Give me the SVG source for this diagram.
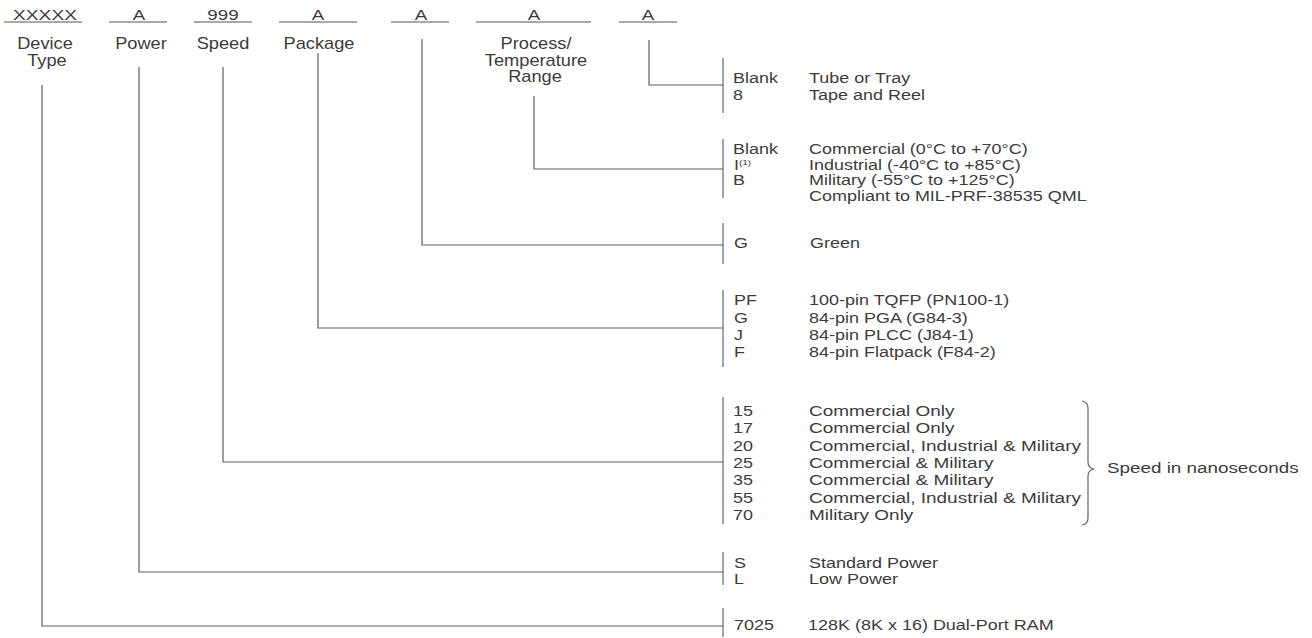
<svg xmlns="http://www.w3.org/2000/svg" width="1312" height="638" viewBox="0 0 1312 638">
<style>
text{font-family:"Liberation Sans",Arial,Helvetica,sans-serif;fill:#3c3c3c}
.top{font-size:15px;text-anchor:middle}
.lbl{font-size:16px;text-anchor:middle}
.r{font-size:14.5px}
.ul{stroke:#555;stroke-width:1.2;fill:none}
.ln{stroke:#5e5e5e;stroke-width:1.2;fill:none}
.bar{stroke:#666;stroke-width:1.2;fill:none}
</style>
<rect width="1312" height="638" fill="#fff"/>

<g id="field-device">
<line class="ul" x1="4" y1="22" x2="82" y2="22"/>
<text class="top" transform="matrix(1.28 0 0 1 45 20)">XXXXX</text>
<text class="lbl" transform="matrix(1.14 0 0 1 45 49)">Device</text>
<text class="lbl" transform="matrix(1.14 0 0 1 47 66)">Type</text>
</g>
<g id="field-power">
<line class="ul" x1="109" y1="22" x2="167" y2="22"/>
<text class="top" transform="matrix(1.25 0 0 1 139 20)">A</text>
<text class="lbl" transform="matrix(1.14 0 0 1 141 49)">Power</text>
</g>
<g id="field-speed">
<line class="ul" x1="194" y1="22" x2="252" y2="22"/>
<text class="top" transform="matrix(1.25 0 0 1 223 20)">999</text>
<text class="lbl" transform="matrix(1.14 0 0 1 223 49)">Speed</text>
</g>
<g id="field-package">
<line class="ul" x1="279" y1="22" x2="357" y2="22"/>
<text class="top" transform="matrix(1.25 0 0 1 318 20)">A</text>
<text class="lbl" transform="matrix(1.14 0 0 1 319 49)">Package</text>
</g>
<g id="field-green">
<line class="ul" x1="391" y1="22" x2="449" y2="22"/>
<text class="top" transform="matrix(1.25 0 0 1 421 20)">A</text>
</g>
<g id="field-process">
<line class="ul" x1="476" y1="22" x2="591" y2="22"/>
<text class="top" transform="matrix(1.25 0 0 1 534 20)">A</text>
<text class="lbl" transform="matrix(1.14 0 0 1 536 49)">Process/</text>
<text class="lbl" transform="matrix(1.14 0 0 1 536 65.5)">Temperature</text>
<text class="lbl" transform="matrix(1.14 0 0 1 535 82)">Range</text>
</g>
<g id="field-packing">
<line class="ul" x1="619" y1="22" x2="677" y2="22"/>
<text class="top" transform="matrix(1.25 0 0 1 648 20)">A</text>
</g>

<g id="connectors">
<polyline class="ln" points="649,40 649,85 723,85"/>
<polyline class="ln" points="534,96 534,169 723,169"/>
<polyline class="ln" points="422,39 422,245 723,245"/>
<polyline class="ln" points="318,53 318,328 723,328"/>
<polyline class="ln" points="223,67 223,462 723,462"/>
<polyline class="ln" points="139,67 139,572 723,572"/>
<polyline class="ln" points="42,85 42,626 723,626"/>
</g>

<g id="opt-packing">
<line class="bar" x1="723" y1="58" x2="723" y2="113"/>
<text class="r" transform="matrix(1.24 0 0 1 733 83)">Blank</text>
<text class="r" transform="matrix(1.24 0 0 1 809 83)">Tube or Tray</text>
<text class="r" transform="matrix(1.24 0 0 1 733 100)">8</text>
<text class="r" transform="matrix(1.24 0 0 1 809 100)">Tape and Reel</text>
</g>
<g id="opt-temp">
<line class="bar" x1="723" y1="139" x2="723" y2="198"/>
<text class="r" transform="matrix(1.24 0 0 1 733 154)">Blank</text>
<text class="r" transform="matrix(1.24 0 0 1 809 154)">Commercial (0°C to +70°C)</text>
<text class="r" transform="matrix(1.24 0 0 1 734 169.5)">I<tspan font-size="8" dy="-5">(1)</tspan></text>
<text class="r" transform="matrix(1.24 0 0 1 809 169.5)">Industrial (-40°C to +85°C)</text>
<text class="r" transform="matrix(1.24 0 0 1 733 185)">B</text>
<text class="r" transform="matrix(1.24 0 0 1 809 185)">Military (-55°C to +125°C)</text>
<text class="r" transform="matrix(1.24 0 0 1 809 200.5)">Compliant to MIL-PRF-38535 QML</text>
</g>
<g id="opt-green">
<line class="bar" x1="723" y1="223" x2="723" y2="264"/>
<text class="r" transform="matrix(1.24 0 0 1 734 248)">G</text>
<text class="r" transform="matrix(1.24 0 0 1 810 248)">Green</text>
</g>
<g id="opt-package">
<line class="bar" x1="723" y1="290" x2="723" y2="367"/>
<text class="r" transform="matrix(1.24 0 0 1 734 305)">PF</text>
<text class="r" transform="matrix(1.24 0 0 1 809 305)">100-pin TQFP (PN100-1)</text>
<text class="r" transform="matrix(1.24 0 0 1 734 322.5)">G</text>
<text class="r" transform="matrix(1.24 0 0 1 809 322.5)">84-pin PGA (G84-3)</text>
<text class="r" transform="matrix(1.24 0 0 1 734 340)">J</text>
<text class="r" transform="matrix(1.24 0 0 1 809 340)">84-pin PLCC (J84-1)</text>
<text class="r" transform="matrix(1.24 0 0 1 734 357)">F</text>
<text class="r" transform="matrix(1.24 0 0 1 809 357)">84-pin Flatpack (F84-2)</text>
</g>
<g id="opt-speed">
<line class="bar" x1="723" y1="397" x2="723" y2="524"/>
<text class="r" transform="matrix(1.24 0 0 1 733 416)">15</text>
<text class="r" transform="matrix(1.31 0 0 1 809 416)">Commercial Only</text>
<text class="r" transform="matrix(1.24 0 0 1 733 433.3)">17</text>
<text class="r" transform="matrix(1.31 0 0 1 809 433.3)">Commercial Only</text>
<text class="r" transform="matrix(1.24 0 0 1 733 450.6)">20</text>
<text class="r" transform="matrix(1.31 0 0 1 809 450.6)">Commercial, Industrial &amp; Military</text>
<text class="r" transform="matrix(1.24 0 0 1 733 468)">25</text>
<text class="r" transform="matrix(1.31 0 0 1 809 468)">Commercial &amp; Military</text>
<text class="r" transform="matrix(1.24 0 0 1 733 485.3)">35</text>
<text class="r" transform="matrix(1.31 0 0 1 809 485.3)">Commercial &amp; Military</text>
<text class="r" transform="matrix(1.24 0 0 1 733 502.6)">55</text>
<text class="r" transform="matrix(1.31 0 0 1 809 502.6)">Commercial, Industrial &amp; Military</text>
<text class="r" transform="matrix(1.24 0 0 1 733 520)">70</text>
<text class="r" transform="matrix(1.31 0 0 1 809 520)">Military Only</text>
<path class="bar" d="M1082,401 Q1088,402 1088,408 L1088,462 Q1088,468 1094,469 Q1088,470 1088,476 L1088,518 Q1088,524 1082,525"/>
<text class="r" transform="matrix(1.3 0 0 1 1107 473)">Speed in nanoseconds</text>
</g>
<g id="opt-power">
<line class="bar" x1="723" y1="552" x2="723" y2="585"/>
<text class="r" transform="matrix(1.24 0 0 1 734 568)">S</text>
<text class="r" transform="matrix(1.24 0 0 1 809 568)">Standard Power</text>
<text class="r" transform="matrix(1.24 0 0 1 734 584)">L</text>
<text class="r" transform="matrix(1.24 0 0 1 809 584)">Low Power</text>
</g>
<g id="opt-device">
<line class="bar" x1="723" y1="608" x2="723" y2="637"/>
<text class="r" transform="matrix(1.24 0 0 1 734 630)">7025</text>
<text class="r" transform="matrix(1.24 0 0 1 808 630)">128K (8K x 16) Dual-Port RAM</text>
</g>
</svg>
